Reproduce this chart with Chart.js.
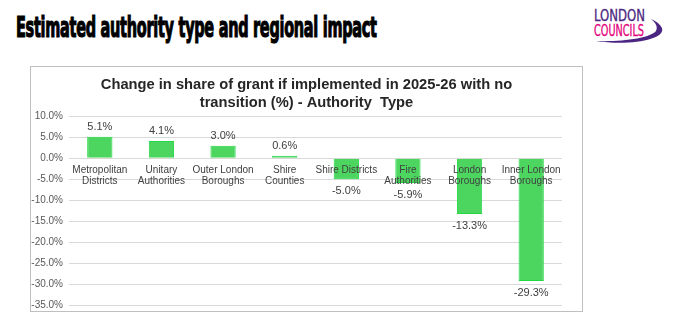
<!DOCTYPE html>
<html>
<head>
<meta charset="utf-8">
<script src="https://cdn.jsdelivr.net/npm/chart.js@4.4.1/dist/chart.umd.min.js"></script>
<style>
  html, body { margin: 0; padding: 0; background: #fff; }
  body { width: 675px; height: 329px; position: relative; overflow: hidden; }
  #heading {
    position: absolute; left: 16px; top: 10px;
    font-family: "DejaVu Sans Condensed", "DejaVu Sans", sans-serif;
    font-weight: bold; font-size: 29px; color: #000;
    -webkit-text-stroke: 1.2px #000;
    white-space: nowrap; transform-origin: 0 0; letter-spacing: -0.5px;
  }
  #logo { position: absolute; left: 588px; top: 4px; }
  #box {
    position: absolute; left: 30px; top: 66px;
    width: 551px; height: 244px; border: 1px solid #bfbfbf;
  }
</style>
</head>
<body>
<div id="heading">Estimated authority type and regional impact</div>
<svg id="logo" width="80" height="42" viewBox="0 0 80 42">
  <text x="6" y="17" textLength="51" lengthAdjust="spacingAndGlyphs"
        font-family="DejaVu Sans Condensed" font-size="16" fill="#4b2582" stroke="#4b2582" stroke-width="0.3">LONDON</text>
  <text x="6" y="32" textLength="50" lengthAdjust="spacingAndGlyphs"
        font-family="DejaVu Sans Condensed" font-size="16" fill="#e4007c" stroke="#e4007c" stroke-width="0.3">COUNCILS</text>
  <path d="M8 37 C 40 42, 78 36, 74 24 C 72 20, 68 17, 63 15 C 68 19, 70 23, 68 27 C 62 34, 35 38, 8 37 Z" fill="#4b2582"/>
</svg>
<div id="box"><canvas id="chart" width="551" height="244"></canvas></div>
<script>
  const heading = document.getElementById('heading');
  heading.style.transform = 'scaleX(' + (361 / heading.offsetWidth) + ')';

  const categories = [
    ['Metropolitan', 'Districts'],
    ['Unitary', 'Authorities'],
    ['Outer London', 'Boroughs'],
    ['Shire', 'Counties'],
    'Shire Districts',
    ['Fire', 'Authorities'],
    ['London', 'Boroughs'],
    ['Inner London', 'Boroughs']
  ];
  const shareChange = [5.1, 4.1, 3.0, 0.6, -5.0, -5.9, -13.3, -29.3];
  const yMin = -35;
  const yMax = 10;
  const yStep = 5;

  // value labels above positive bars and below negative ones
  const barValueLabels = {
    id: 'barValueLabels',
    afterDatasetsDraw(chart) {
      const ctx = chart.ctx;
      const meta = chart.getDatasetMeta(0);
      ctx.save();
      ctx.font = '11px "Liberation Sans", Arial, sans-serif';
      ctx.fillStyle = '#404040';
      ctx.textAlign = 'center';
      ctx.textBaseline = 'middle';
      meta.data.forEach((bar, i) => {
        const v = shareChange[i];
        const y = v >= 0 ? bar.y - 10 : bar.y + 12;
        ctx.fillText(v.toFixed(1) + '%', bar.x, y);
      });
      ctx.restore();
    }
  };

  new Chart(document.getElementById('chart'), {
    type: 'bar',
    data: {
      labels: categories,
      datasets: [{
        data: shareChange,
        backgroundColor: '#4cd660',
        borderColor: '#22d844',
        borderWidth: 1,
        barPercentage: 0.41,
        categoryPercentage: 1
      }]
    },
    options: {
      responsive: false,
      animation: false,
      layout: { padding: { left: 0, right: 0, top: 0, bottom: 6 } },
      plugins: {
        legend: { display: false },
        tooltip: { enabled: false },
        title: {
          display: true,
          text: ['Change in share of grant if implemented in 2025-26 with no', 'transition (%) - Authority  Type'],
          color: '#262626',
          font: { family: '"Liberation Sans", Arial, sans-serif', size: 14.7, weight: 'bold', lineHeight: 1.2 },
          padding: { top: 9, bottom: 5 }
        }
      },
      scales: {
        x: {
          position: { y: 0 },
          grid: { display: false, drawTicks: false },
          border: { display: false },
          ticks: {
            z: 1,
            color: '#404040',
            padding: 7,
            maxRotation: 0,
            autoSkip: false,
            font: { family: '"Liberation Sans", Arial, sans-serif', size: 10, lineHeight: 1.05 }
          },
          afterFit(scale) {
            scale.height = 0;
            scale.paddingLeft = 0;
            scale.paddingRight = 20;
          }
        },
        y: {
          min: yMin,
          max: yMax,
          grid: { color: '#d9d9d9', drawTicks: false },
          border: { display: false },
          ticks: {
            stepSize: yStep,
            color: '#595959',
            padding: 6,
            font: { family: '"Liberation Sans", Arial, sans-serif', size: 10 },
            callback: v => v.toFixed(1) + '%'
          },
          afterFit(scale) {
            scale.width = 38;
            scale.paddingTop = 0;
            scale.paddingBottom = 0;
          }
        }
      }
    },
    plugins: [barValueLabels]
  });
</script>
</body>
</html>
